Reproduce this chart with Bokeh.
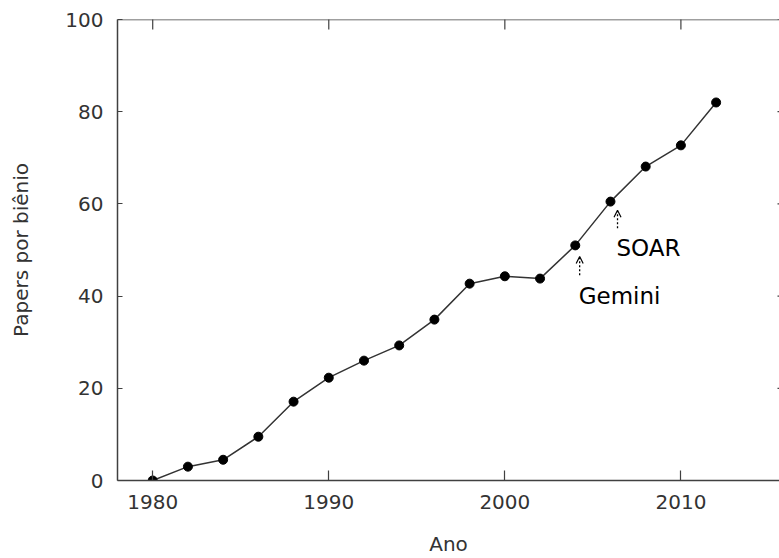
import math
from bokeh.plotting import figure
from bokeh.models import FixedTicker, Arrow, OpenHead, Range1d, ColumnDataSource, Span
from bokeh.core.properties import value
from bokeh.embed import file_html
from bokeh.resources import INLINE

years = [1980, 1982, 1984, 1986, 1988, 1990, 1992, 1994, 1996, 1998,
         2000, 2002, 2004, 2006, 2008, 2010, 2012]
papers = [0.0, 3.0, 4.5, 9.5, 17.1, 22.3, 26.0, 29.3, 34.9, 42.7,
          44.3, 43.8, 51.0, 60.5, 68.1, 72.7, 82.0]

x_ticks = [1980, 1990, 2000, 2010]
y_ticks = [0, 20, 40, 60, 80, 100]

ann_names = ["Gemini", "SOAR"]
ann_x = [2004.25, 2006.4]
ann_y_start = [44.5, 54.7]
ann_y_end = [48.6, 58.6]
ann_text_y = [40.1, 50.5]

X_MIN, X_MAX = 1978, 2015.6
Y_MIN, Y_MAX = 0, 100

FONT = "DejaVu Sans"
AX_COLOR = "#404040"
TXT_COLOR = "#333333"

p = figure(width=779, height=558, output_backend="svg", toolbar_location=None,
           x_range=Range1d(X_MIN, X_MAX), y_range=Range1d(Y_MIN, Y_MAX),
           x_axis_label="Ano", y_axis_label="Papers por biênio",
           min_border_left=117, min_border_right=0, min_border_top=19, min_border_bottom=78)
p.outline_line_color = None
p.xgrid.visible = False
p.ygrid.visible = False

for ax in p.xaxis:
    ax.ticker = FixedTicker(ticks=x_ticks)
    ax.major_tick_in = 10
    ax.major_tick_out = 0
    ax.minor_tick_line_color = None
    ax.major_label_standoff = 14
for ax in p.yaxis:
    ax.ticker = FixedTicker(ticks=y_ticks)
    ax.major_tick_in = 5
    ax.major_tick_out = 0
    ax.minor_tick_line_color = None
    ax.major_label_standoff = 14
for ax in list(p.xaxis) + list(p.yaxis):
    ax.axis_line_color = AX_COLOR
    ax.axis_line_width = 1.5
    ax.major_tick_line_color = AX_COLOR
    ax.major_tick_line_width = 1.2
    ax.major_label_text_font = FONT
    ax.major_label_text_font_size = "20px"
    ax.major_label_text_color = TXT_COLOR
    ax.axis_label_text_font = FONT
    ax.axis_label_text_font_size = "20px"
    ax.axis_label_text_font_style = "normal"
    ax.axis_label_text_color = TXT_COLOR
p.xaxis.axis_label_standoff = 20
p.yaxis.axis_label_standoff = 29

# top border with inward ticks (outer half of each dash is clipped by the frame)
p.add_layout(Span(location=Y_MAX, dimension="width", line_color=AX_COLOR, line_width=1.5))
p.scatter(x=x_ticks, y=[Y_MAX] * len(x_ticks), marker="dash", size=20, angle=math.pi / 2,
          line_color=AX_COLOR, line_width=1.2)
# right-side ticks (border itself lies just outside the picture)
p.scatter(x=[X_MAX] * len(y_ticks), y=y_ticks, marker="dash", size=4,
          line_color=AX_COLOR, line_width=1.2)

src = ColumnDataSource(dict(x=years, y=papers))
p.line("x", "y", source=src, line_color="#333333", line_width=1.5)
p.scatter("x", "y", source=src, size=9, fill_color="black", line_color="black")

asrc = ColumnDataSource(dict(x=ann_x, y0=ann_y_start, y1=ann_y_end))
p.add_layout(Arrow(end=OpenHead(size=7, line_width=1.2, line_color="black"),
                   x_start="x", y_start="y0", x_end="x", y_end="y1", source=asrc,
                   line_dash="2 2", line_width=1.3, line_color="black"))

tsrc = ColumnDataSource(dict(x=ann_x, y=ann_text_y, t=ann_names))
p.text("x", "y", text="t", source=tsrc, text_font=value(FONT), text_font_size="23px",
       text_color="black", text_baseline="middle", text_align="left", x_offset=-1)

open("out.html", "w").write(file_html(p, INLINE))
